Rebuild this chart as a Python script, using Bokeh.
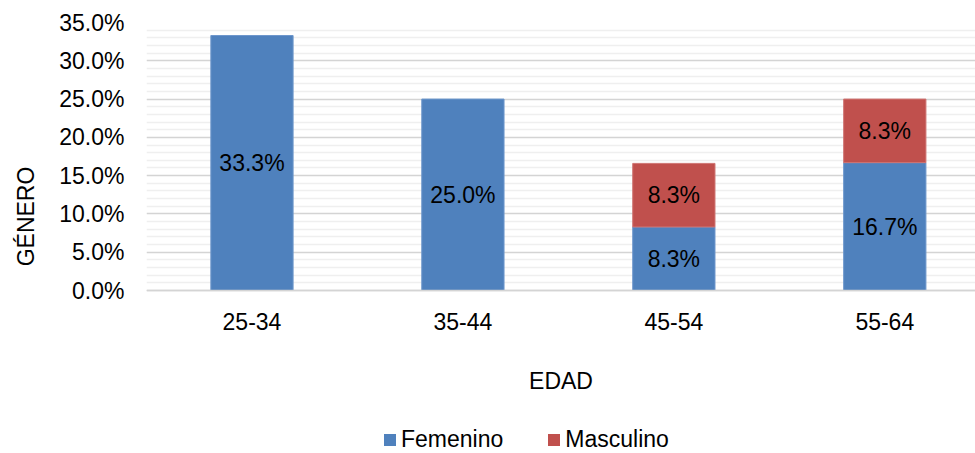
from bokeh.plotting import figure
from bokeh.layouts import column
from bokeh.models import (ColumnDataSource, Range1d, FixedTicker,
                          PrintfTickFormatter, Legend, LegendItem)
from bokeh.core.properties import value
from bokeh.embed import file_html
from bokeh.resources import INLINE

categories = ["25-34", "35-44", "45-54", "55-64"]
femenino = [33.3, 25.0, 8.3, 16.7]
masculino = [0.0, 0.0, 8.3, 8.3]
series_names = ["Femenino", "Masculino"]
colors = ["#4F81BD", "#C0504D"]
y_ticks = [0, 5, 10, 15, 20, 25, 30, 35]
y_minor = [v for v in range(0, 36) if v not in y_ticks]

FONT = "Liberation Sans"
FS = "23px"

x = list(range(len(categories)))
bottom_m = femenino
top_m = [f + m for f, m in zip(femenino, masculino)]
m_line_alpha = [1.0 if m > 0 else 0.0 for m in masculino]

# frame: 35% line at the top, value 0 sits 268px lower; frame continues below for the x axis
FRAME_TOP, FRAME_H, ZERO_PX = 22, 388, 268
y_start = 35 - 35 * FRAME_H / ZERO_PX

p = figure(width=975, height=427, output_backend="svg", toolbar_location=None,
           x_range=Range1d(-0.5, 3.43), y_range=Range1d(y_start, 35),
           min_border_left=146, min_border_top=FRAME_TOP, min_border_right=0,
           min_border_bottom=427 - FRAME_TOP - FRAME_H)
p.outline_line_color = None
p.background_fill_color = "white"
p.border_fill_color = "white"

src = ColumnDataSource(dict(x=x, f=femenino, b=bottom_m, t=top_m, la=m_line_alpha))
r1 = p.vbar(x="x", width=0.39, bottom=0, top="f", source=src, fill_color=colors[0],
            line_color="#6d97cc", line_width=1)
r2 = p.vbar(x="x", width=0.39, bottom="b", top="t", source=src, fill_color=colors[1],
            line_color="#cf7573", line_alpha="la", line_width=1)

# labels
lx, ly, lt = [], [], []
for i in x:
    if femenino[i] > 0:
        lx.append(i); ly.append(femenino[i] / 2); lt.append(f"{femenino[i]:.1f}%")
    if masculino[i] > 0:
        lx.append(i); ly.append(femenino[i] + masculino[i] / 2); lt.append(f"{masculino[i]:.1f}%")
p.text(x=lx, y=ly, text=lt, text_align="center", text_baseline="middle",
       text_font=value(FONT), text_font_size=FS, text_color="black")

# y axis
yt = FixedTicker(ticks=y_ticks, minor_ticks=y_minor)
p.yaxis.ticker = yt
p.yaxis.formatter = PrintfTickFormatter(format="%.1f%%")
p.yaxis.axis_line_color = None
p.yaxis.major_tick_line_color = None
p.yaxis.minor_tick_line_color = None
p.yaxis.major_tick_out = 0
p.yaxis.major_label_standoff = 18
p.yaxis.major_label_text_font = FONT
p.yaxis.major_label_text_font_size = FS
p.yaxis.major_label_text_color = "black"
p.yaxis.axis_label = "GÉNERO"
p.yaxis.axis_label_text_font = FONT
p.yaxis.axis_label_text_font_size = FS
p.yaxis.axis_label_text_font_style = "normal"
p.yaxis.axis_label_text_color = "black"
p.yaxis.axis_label_standoff = 17

p.ygrid.ticker = yt
p.ygrid.grid_line_color = "#d4d4d4"
p.ygrid.grid_line_width = 1.5
p.ygrid.minor_grid_line_color = "#efefef"
p.ygrid.minor_grid_line_width = 1.5
p.xgrid.grid_line_color = None

# x axis, pinned at value 0
p.xaxis.fixed_location = 0
p.xaxis.ticker = FixedTicker(ticks=x)
p.xaxis.major_label_overrides = {i: c for i, c in zip(x, categories)}
p.xaxis.axis_line_color = "#d4d4d4"
p.xaxis.axis_line_width = 1.5
p.xaxis.major_tick_line_color = None
p.xaxis.minor_tick_line_color = None
p.xaxis.major_tick_out = 0
p.xaxis.major_label_standoff = 22
p.xaxis.major_label_text_font = FONT
p.xaxis.major_label_text_font_size = FS
p.xaxis.major_label_text_color = "black"
p.xaxis.axis_label = "EDAD"
p.xaxis.axis_label_text_font = FONT
p.xaxis.axis_label_text_font_size = FS
p.xaxis.axis_label_text_font_style = "normal"
p.xaxis.axis_label_text_color = "black"
p.xaxis.axis_label_standoff = 35

# legend strip (same data, drawn far out of view so only the legend swatches show)
q = figure(width=975, height=26, output_backend="svg", toolbar_location=None,
           x_range=Range1d(-1000, -999), y_range=Range1d(-1000, -999),
           min_border=0)
q.axis.visible = False
q.grid.visible = False
q.outline_line_color = None
q.border_fill_color = "white"
q.background_fill_color = "white"
k1 = q.vbar(x="x", width=0.39, bottom=0, top="f", source=src,
            fill_color=colors[0], line_color=None)
k2 = q.vbar(x="x", width=0.39, bottom="b", top="t", source=src,
            fill_color=colors[1], line_color=None)
legend = Legend(items=[LegendItem(label=series_names[0], renderers=[k1]),
                       LegendItem(label=series_names[1], renderers=[k2])],
                orientation="horizontal", location=(236, 0),
                glyph_width=15, glyph_height=15, label_standoff=4, spacing=43,
                label_text_font=FONT, label_text_font_size=FS, label_text_color="black",
                border_line_color=None, background_fill_alpha=0, padding=0, margin=0)
q.add_layout(legend, "center")

layout = column(p, q, spacing=0)
open("out.html", "w").write(file_html(layout, INLINE))
